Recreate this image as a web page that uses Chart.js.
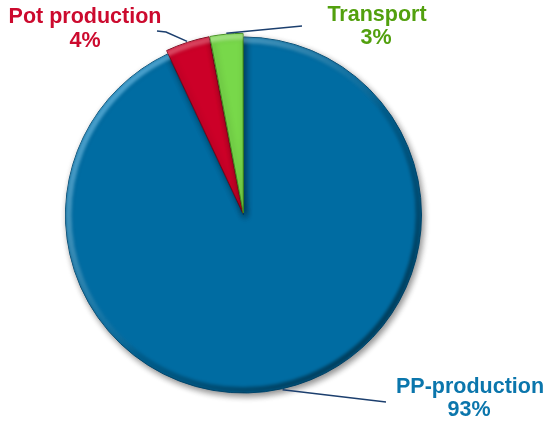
<!DOCTYPE html>
<html>
<head>
<meta charset="utf-8">
<script src="https://cdn.jsdelivr.net/npm/chart.js@4/dist/chart.umd.min.js"></script>
<style>
  html, body { margin: 0; padding: 0; background: #ffffff; }
  #wrap { width: 550px; height: 427px; position: relative; }
</style>
</head>
<body>
<div id="wrap"><canvas id="c"></canvas></div>
<script>
// ---- Data ----
const categories = ['PP-production', 'Pot production', 'Transport'];
const shares = [93, 4, 3];
const percentLabels = ['93%', '4%', '3%'];

// ---- Styles ----
const sliceColors = ['#006ca2', '#cc0028', '#78d84a'];
const sliceBorders = ['#004a72', '#7a0018', '#3f8a1a'];
const highlightColors = ['rgba(90,200,255,0.7)', 'rgba(255,120,140,0.6)', 'rgba(200,255,170,0.7)'];
const textColors = ['#0b76ac', '#cc0a2e', '#52a00e'];
const sliceOffsets = [0, 8, 8];

// label layout (text anchor positions + leader end points)
const labelLayout = [
  { line1: [470, 387], line2: [469, 410], leader: [[386, 402]] },
  { line1: [85, 17],   line2: [85, 41],   leader: [[166, 32], [157, 31]] },
  { line1: [377, 15],  line2: [376, 38],  leader: [[302, 26]] }
];

function arcShift(el) {
  const off = (el.options.offset || 0) / 4;
  const circ = el.endAngle - el.startAngle;
  const fix = 1 - Math.sin(Math.min(Math.PI, circ || 0));
  const total = off + off * fix;
  const half = (el.startAngle + el.endAngle) / 2;
  return [Math.cos(half) * total, Math.sin(half) * total];
}

const shadowPlugin = {
  id: 'shadowPlugin',
  beforeDatasetDraw(chart) {
    const ctx = chart.ctx;
    ctx.save();
    ctx.shadowColor = 'rgba(0,0,0,0.45)';
    ctx.shadowBlur = 6;
    ctx.shadowOffsetX = 2;
    ctx.shadowOffsetY = 3;
  },
  afterDatasetDraw(chart) {
    chart.ctx.restore();
  }
};

const bevelPlugin = {
  id: 'bevelPlugin',
  afterDatasetsDraw(chart) {
    const ctx = chart.ctx;
    const meta = chart.getDatasetMeta(0);
    meta.data.forEach((el, i) => {
      const [dx, dy] = arcShift(el);
      const cx = el.x + dx, cy = el.y + dy, r = el.outerRadius;
      ctx.save();
      ctx.beginPath();
      ctx.moveTo(cx, cy);
      ctx.arc(cx, cy, r, el.startAngle, el.endAngle);
      ctx.closePath();
      ctx.clip();
      const g = ctx.createLinearGradient(cx - r, cy - r, cx + r, cy + r);
      g.addColorStop(0, highlightColors[i]);
      g.addColorStop(0.45, 'rgba(255,255,255,0.08)');
      g.addColorStop(0.55, 'rgba(0,0,0,0.12)');
      g.addColorStop(1, 'rgba(0,0,0,0.55)');
      ctx.strokeStyle = g;
      ctx.lineWidth = 6;
      ctx.filter = 'blur(1.5px)';
      ctx.beginPath();
      ctx.arc(cx, cy, r - 3, 0, Math.PI * 2);
      ctx.stroke();
      ctx.restore();
    });
  }
};

const labelPlugin = {
  id: 'labelPlugin',
  afterDraw(chart) {
    const ctx = chart.ctx;
    const meta = chart.getDatasetMeta(0);
    ctx.save();
    meta.data.forEach((el, i) => {
      const [dx, dy] = arcShift(el);
      const mid = (el.startAngle + el.endAngle) / 2;
      const r = el.outerRadius + 1;
      const sx = el.x + dx + Math.cos(mid) * r;
      const sy = el.y + dy + Math.sin(mid) * r;
      const lay = labelLayout[i];
      ctx.strokeStyle = '#1c3f6e';
      ctx.lineWidth = 1.5;
      ctx.beginPath();
      ctx.moveTo(sx, sy);
      lay.leader.forEach(p => ctx.lineTo(p[0], p[1]));
      ctx.stroke();
      ctx.fillStyle = textColors[i];
      ctx.font = 'bold 21.5px "Liberation Sans", Arial, sans-serif';
      ctx.textAlign = 'center';
      ctx.textBaseline = 'middle';
      ctx.fillText(categories[i], lay.line1[0], lay.line1[1]);
      ctx.fillText(percentLabels[i], lay.line2[0], lay.line2[1]);
    });
    ctx.restore();
  }
};

new Chart(document.getElementById('c'), {
  type: 'pie',
  data: {
    labels: categories,
    datasets: [{
      data: shares,
      backgroundColor: sliceColors,
      borderColor: sliceBorders,
      borderWidth: 1,
      offset: sliceOffsets
    }]
  },
  options: {
    responsive: true,
    maintainAspectRatio: false,
    animation: false,
    radius: 178,
    layout: { padding: { left: 0, right: 63, top: 3, bottom: 0 } },
    plugins: {
      legend: { display: false },
      tooltip: { enabled: false }
    }
  },
  plugins: [shadowPlugin, bevelPlugin, labelPlugin]
});
</script>
</body>
</html>
